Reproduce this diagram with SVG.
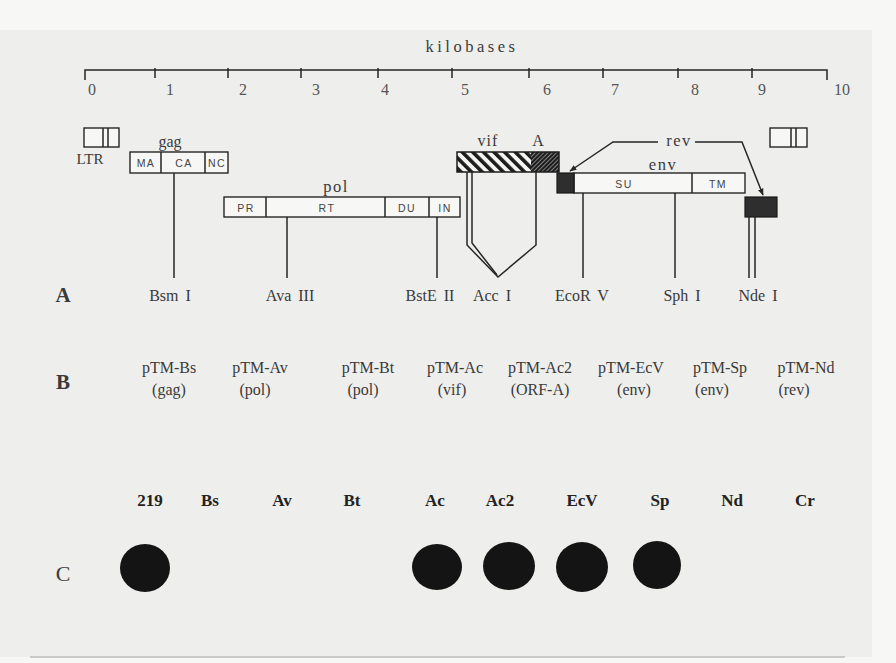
<svg xmlns="http://www.w3.org/2000/svg" width="896" height="663" viewBox="0 0 896 663">
<defs>
<style>
.serif{font-family:"Liberation Serif","Times New Roman",serif;fill:#3a3a3a}
.sans{font-family:"Liberation Sans",Arial,sans-serif;fill:#444;font-size:10.5px;letter-spacing:1.5px}
.ln{stroke:#262626;stroke-width:1.5;fill:none}
.box{fill:#f7f7f5;stroke:#262626;stroke-width:1.4}
.num{font-family:"Liberation Serif","Times New Roman",serif;fill:#555;font-size:16px}
.lab{font-family:"Liberation Serif","Times New Roman",serif;fill:#3a3a3a;font-size:16px;text-anchor:middle;word-spacing:3px}
.bl{font-family:"Liberation Serif","Times New Roman",serif;fill:#222;font-size:17px;font-weight:bold;text-anchor:middle}
.dot{fill:#141414}
.rv{fill:#2e2e2e;stroke:#1a1a1a;stroke-width:1.2}
</style>
<pattern id="hv" width="7.5" height="10" patternUnits="userSpaceOnUse" patternTransform="rotate(-45)">
<rect width="7.5" height="10" fill="#f4f4f2"/><rect width="3.6" height="10" fill="#1c1c1c"/>
</pattern>
<pattern id="ha" width="3" height="10" patternUnits="userSpaceOnUse" patternTransform="rotate(45)">
<rect width="3" height="10" fill="#1c1c1c"/><rect width="0.9" height="10" fill="#8a8a8a"/>
</pattern>
<marker id="ar" viewBox="0 0 10 10" refX="9" refY="5" markerWidth="7" markerHeight="7" orient="auto" markerUnits="userSpaceOnUse">
<path d="M0,1 L10,5 L0,9 Z" fill="#262626"/>
</marker>
</defs>
<rect width="896" height="663" fill="#f7f7f5"/>
<rect x="0" y="30" width="872" height="627" fill="#eeeeec"/>
<line x1="30" y1="657" x2="845" y2="657" stroke="#bdbdbb" stroke-width="1.5"/>

<g id="scale">
<text class="serif" x="472" y="52" font-size="16.5" text-anchor="middle" letter-spacing="3.5">kilobases</text>
<path class="ln" d="M85,80 V70 H827 V80"/>
<path class="ln" d="M155,68 V78 M228,68 V78 M301,68 V78 M378,68 V78 M452,68 V78 M529,68 V78 M603,68 V78 M678,68 V78 M752,68 V78"/>
<g class="num" text-anchor="middle">
<text x="92" y="95">0</text><text x="170" y="95">1</text><text x="243" y="95">2</text><text x="316" y="95">3</text><text x="385" y="95">4</text><text x="465" y="95">5</text><text x="547" y="95">6</text><text x="615" y="95">7</text><text x="695" y="95">8</text><text x="762" y="95">9</text><text x="842" y="95">10</text>
</g>
</g>

<g id="ltr-left">
<rect class="box" x="84" y="128" width="35" height="19"/>
<path class="ln" d="M103,128 V147 M108,128 V147"/>
<text class="serif" x="90" y="164" font-size="15" text-anchor="middle">LTR</text>
</g>
<g id="ltr-right">
<rect class="box" x="770" y="128" width="37" height="19"/>
<path class="ln" d="M791,128 V147 M796,128 V147"/>
</g>

<g id="gag">
<text class="serif" x="170" y="147" font-size="16" text-anchor="middle">gag</text>
<rect class="box" x="130" y="152" width="98" height="21"/>
<path class="ln" d="M161,152 V173 M205,152 V173"/>
<text class="sans" x="146" y="167" text-anchor="middle">MA</text>
<text class="sans" x="184" y="167" text-anchor="middle" letter-spacing="3">CA</text>
<text class="sans" x="217" y="167" text-anchor="middle" letter-spacing="0">NC</text>
</g>

<g id="pol">
<text class="serif" x="336" y="192" font-size="16.5" text-anchor="middle" letter-spacing="1.5">pol</text>
<rect class="box" x="224" y="197" width="236" height="20"/>
<path class="ln" d="M266,197 V217 M385,197 V217 M429,197 V217"/>
<text class="sans" x="246" y="212" text-anchor="middle" letter-spacing="3">PR</text>
<text class="sans" x="327" y="212" text-anchor="middle" letter-spacing="3">RT</text>
<text class="sans" x="407" y="212" text-anchor="middle">DU</text>
<text class="sans" x="445" y="212" text-anchor="middle">IN</text>
</g>

<g id="vif">
<text class="serif" x="488" y="146" font-size="16" text-anchor="middle" letter-spacing="1">vif</text>
<text class="serif" x="538" y="146" font-size="16" text-anchor="middle">A</text>
<rect x="457" y="152" width="74" height="20" fill="url(#hv)"/>
<rect x="531" y="152" width="28" height="20" fill="url(#ha)"/>
<rect x="457" y="152" width="102" height="20" fill="none" stroke="#1c1c1c" stroke-width="1.5"/>
</g>

<g id="env">
<text class="serif" x="663" y="170" font-size="16.5" text-anchor="middle" letter-spacing="1.5">env</text>
<rect class="box" x="574" y="173" width="171" height="20"/>
<path class="ln" d="M692,173 V193"/>
<text class="sans" x="624" y="188" text-anchor="middle" letter-spacing="3">SU</text>
<text class="sans" x="718" y="188" text-anchor="middle" letter-spacing="2">TM</text>
</g>

<g id="rev">
<text class="serif" x="679" y="146" font-size="16.5" text-anchor="middle" letter-spacing="1.5">rev</text>
<rect class="rv" x="557" y="173" width="17" height="20"/>
<rect class="rv" x="745" y="197" width="32" height="20"/>
</g>

<g id="connectors">
<path class="ln" d="M174,173 V278"/>
<path class="ln" d="M287,217 V278"/>
<path class="ln" d="M437,217 V278"/>
<path class="ln" d="M467,172 V245 L498,277 L536,245 V172"/>
<path class="ln" d="M472,172 V243 L497,275"/>
<path class="ln" d="M583,193 V278"/>
<path class="ln" d="M675,193 V278"/>
<path class="ln" d="M749,217 V278 M755,217 V278"/>
<path class="ln" d="M658,142 H613 L570,171" stroke-width="1.2" marker-end="url(#ar)"/>
<path class="ln" d="M695,142 H742 L763,195" stroke-width="1.2" marker-end="url(#ar)"/>
</g>

<g id="rowA">
<text class="serif" x="63" y="302" font-size="21" font-weight="bold" fill="#222" text-anchor="middle">A</text>
<text class="lab" x="170" y="301">Bsm I</text>
<text class="lab" x="290" y="301">Ava III</text>
<text class="lab" x="430" y="301">BstE II</text>
<text class="lab" x="492" y="301">Acc I</text>
<text class="lab" x="582" y="301">EcoR V</text>
<text class="lab" x="682" y="301">Sph I</text>
<text class="lab" x="758" y="301">Nde I</text>
</g>

<g id="rowB">
<text class="serif" x="63" y="389" font-size="21" font-weight="bold" fill="#222" text-anchor="middle">B</text>
<g class="lab" font-size="16">
<text x="169" y="373">pTM-Bs</text>
<text x="260" y="373">pTM-Av</text>
<text x="368" y="373">pTM-Bt</text>
<text x="455" y="373">pTM-Ac</text>
<text x="540" y="373">pTM-Ac2</text>
<text x="631" y="373">pTM-EcV</text>
<text x="720" y="373">pTM-Sp</text>
<text x="806" y="373">pTM-Nd</text>
<text x="169" y="395">(gag)</text>
<text x="255" y="395">(pol)</text>
<text x="363" y="395">(pol)</text>
<text x="452" y="395">(vif)</text>
<text x="540" y="395">(ORF-A)</text>
<text x="634" y="395">(env)</text>
<text x="712" y="395">(env)</text>
<text x="794" y="395">(rev)</text>
</g>
</g>

<g id="rowC">
<g class="bl">
<text x="150" y="506">219</text>
<text x="210" y="506">Bs</text>
<text x="282" y="506">Av</text>
<text x="352" y="506">Bt</text>
<text x="435" y="506">Ac</text>
<text x="500" y="506">Ac2</text>
<text x="582" y="506">EcV</text>
<text x="660" y="506">Sp</text>
<text x="732" y="506">Nd</text>
<text x="805" y="506">Cr</text>
</g>
<text class="serif" x="63" y="581" font-size="22" text-anchor="middle">C</text>
<ellipse class="dot" cx="145" cy="568" rx="25" ry="24"/>
<ellipse class="dot" cx="437" cy="567" rx="25" ry="23"/>
<ellipse class="dot" cx="509" cy="566" rx="26" ry="24"/>
<ellipse class="dot" cx="582" cy="567" rx="26" ry="25"/>
<ellipse class="dot" cx="657" cy="565" rx="24" ry="24"/>
</g>
</svg>
